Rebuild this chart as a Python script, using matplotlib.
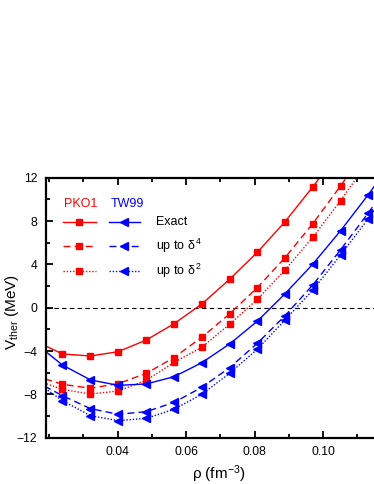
import numpy as np
import matplotlib
matplotlib.use("Agg")
import matplotlib.pyplot as plt
from matplotlib.lines import Line2D
from matplotlib.ticker import MultipleLocator

plt.rcParams['font.family'] = ['Liberation Sans', 'DejaVu Sans']
plt.rcParams['mathtext.fontset'] = 'custom'
plt.rcParams['mathtext.rm'] = 'Liberation Sans'
plt.rcParams['mathtext.it'] = 'Liberation Sans'

# densities (fm^-3); first and last points lie outside the visible range
rho = [0.0158, 0.0239, 0.0321, 0.0402, 0.0484, 0.0565, 0.0646, 0.0727,
       0.0808, 0.0889, 0.0970, 0.1051, 0.1132, 0.1213]

pko1_exact = [-3.05, -4.27, -4.46, -4.06, -2.98, -1.48, 0.34, 2.62,
              5.11, 7.94, 11.15, 14.6, 18.2, 22.0]
pko1_d4 = [-6.28, -7.07, -7.44, -7.01, -6.06, -4.60, -2.73, -0.58,
           1.85, 4.62, 7.76, 11.23, 14.9, 18.8]
pko1_d2 = [-6.64, -7.54, -7.97, -7.69, -6.70, -5.05, -3.65, -1.54,
           0.77, 3.48, 6.50, 9.88, 13.5, 17.3]

tw99_exact = [-3.23, -5.29, -6.67, -7.17, -7.04, -6.37, -5.08, -3.35,
              -1.25, 1.29, 4.02, 7.10, 10.43, 14.0]
tw99_d4 = [-6.75, -8.12, -9.32, -9.84, -9.60, -8.74, -7.35, -5.54,
           -3.29, -0.74, 2.10, 5.34, 8.75, 12.4]
tw99_d2 = [-6.77, -8.58, -9.97, -10.43, -10.21, -9.38, -7.99, -6.06,
           -3.84, -1.13, 1.63, 4.86, 8.22, 11.8]

RED = "#ff0000"
BLUE = "#0000ff"
lw = 1.0
ms_sq = 4.5
ms_tr = 5.2
dash = (5, 3)
dot = (1, 1.3)

fig = plt.figure(figsize=(3.74, 4.84), dpi=100)
ax = fig.add_axes([0.122, 0.0957, 0.925, 0.5372])

ax.axhline(0, color="black", lw=0.8, ls=(0, (4, 3)), zorder=1)

ax.plot(rho, pko1_exact, color=RED, lw=lw, marker="s", ms=ms_sq)
ax.plot(rho, pko1_d4, color=RED, lw=lw, ls=(0, dash), marker="s", ms=ms_sq)
ax.plot(rho, pko1_d2, color=RED, lw=lw, ls=(0, dot), marker="s", ms=ms_sq)
ax.plot(rho, tw99_exact, color=BLUE, lw=lw, marker="<", ms=ms_tr)
ax.plot(rho, tw99_d4, color=BLUE, lw=lw, ls=(0, dash), marker="<", ms=ms_tr)
ax.plot(rho, tw99_d2, color=BLUE, lw=lw, ls=(0, dot), marker="<", ms=ms_tr)

ax.set_xlim(0.019, 0.12)
ax.set_ylim(-12, 12)
ax.xaxis.set_major_locator(MultipleLocator(0.02))
ax.xaxis.set_minor_locator(MultipleLocator(0.01))
ax.yaxis.set_major_locator(MultipleLocator(4))
ax.yaxis.set_minor_locator(MultipleLocator(2))
ax.set_xticks([0.04, 0.06, 0.08, 0.10])
ax.set_xticklabels(["0.04", "0.06", "0.08", "0.10"])
ax.tick_params(which="both", direction="in", top=True, right=True,
               width=1.3, labelsize=8.7, pad=6)
ax.tick_params(which="major", length=5)
ax.tick_params(which="minor", length=3)
for s in ax.spines.values():
    s.set_linewidth(1.6)

ax.set_xlabel(r"$\rho$ (fm$^{-3}$)", fontsize=11, labelpad=4)
ax.set_ylabel(r"V$_{\rm ther}$ (MeV)", fontsize=11)
ax.yaxis.set_label_coords(-0.072, 0.485)

# legend, drawn by hand
T = ax.transAxes
rows = [0.831, 0.737, 0.642]
styles = ["-", (0, dash), (0, dot)]
labels = ["Exact", r"up to $\delta^4$", r"up to $\delta^2$"]
ax.text(0.102, 0.899, "PKO1", color=RED, fontsize=9, ha="center", va="center", transform=T)
ax.text(0.235, 0.899, "TW99", color=BLUE, fontsize=9, ha="center", va="center", transform=T)
for yy, st, lab in zip(rows, styles, labels):
    ax.add_line(Line2D([0.050, 0.145], [yy, yy], color=RED, lw=lw, ls=st, transform=T))
    ax.add_line(Line2D([0.097], [yy], color=RED, marker="s", ms=ms_sq, transform=T))
    ax.add_line(Line2D([0.183, 0.273], [yy, yy], color=BLUE, lw=lw, ls=st, transform=T))
    ax.add_line(Line2D([0.227], [yy], color=BLUE, marker="<", ms=ms_tr, transform=T))
    ax.text(0.318, yy, lab, fontsize=9, ha="left", va="center", transform=T)

fig.savefig("out.png", dpi=100)
